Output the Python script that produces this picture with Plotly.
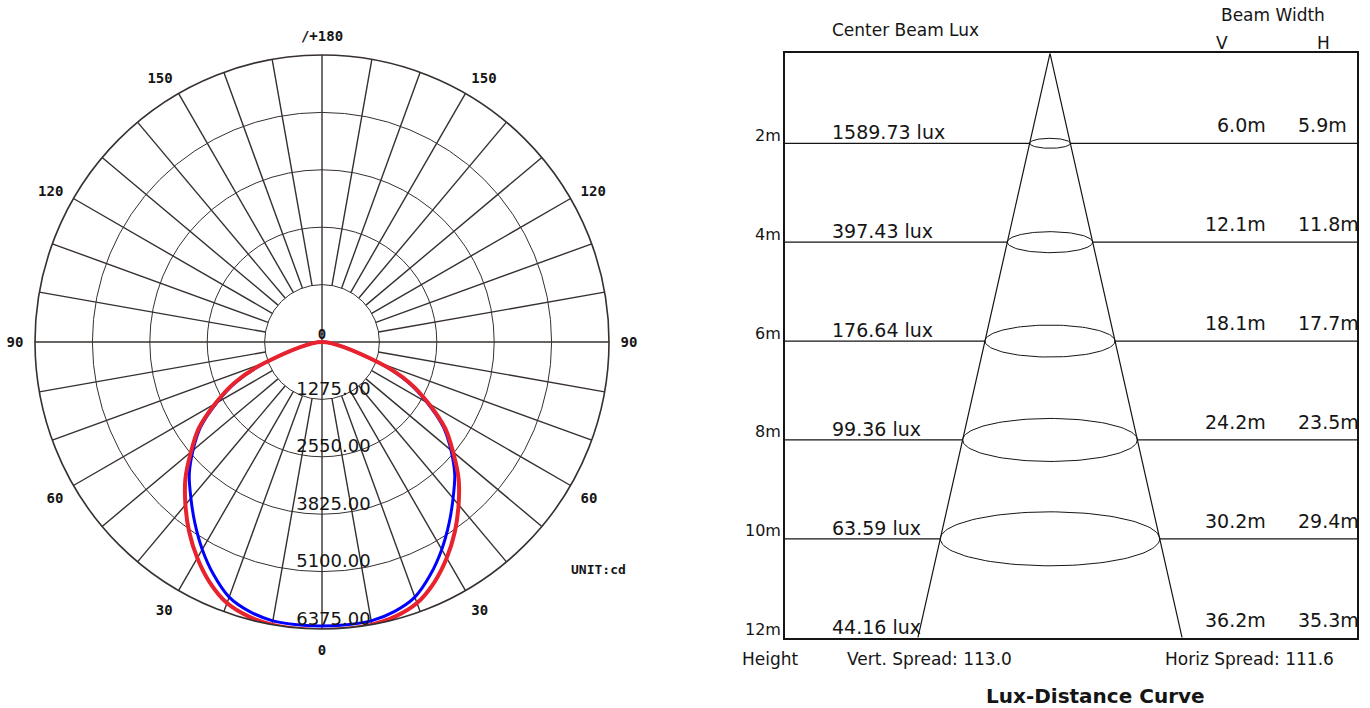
import numpy as np
import plotly.graph_objects as go

W, H = 1370, 708

# ---------------- Polar (luminous intensity) data ----------------
gamma_deg = list(range(-75, 80, 5))
blue_cd = [0, 1330, 2100, 2700, 3290, 3740, 4170, 4530, 4920, 5320, 5700, 6030, 6200, 6290, 6305,
           6310,
           6305, 6290, 6200, 6030, 5700, 5320, 4920, 4530, 4170, 3740, 3290, 2700, 2100, 1330, 0]
red_cd = [0, 1350, 2150, 2740, 3340, 3800, 4290, 4720, 5145, 5540, 5895, 6170, 6310, 6375, 6395,
          6400,
          6395, 6375, 6310, 6170, 5895, 5540, 5145, 4720, 4290, 3800, 3340, 2740, 2150, 1350, 0]
ring_values = [1275, 2550, 3825, 5100, 6375]
ring_labels = ["1275.00", "2550.00", "3825.00", "5100.00", "6375.00"]
angle_tickvals = [0, 30, 60, 90, 120, 150, 180, 210, 240, 270, 300, 330]
angle_ticktext = ["0", "30", "60", "90", "120", "150", "/+180", "150", "120", "90", "60", "30"]
unit_text = "UNIT:cd"

# ---------------- Lux-distance data ----------------
heights = [2, 4, 6, 8, 10, 12]
height_labels = ["2m", "4m", "6m", "8m", "10m", "12m"]
center_lux = ["1589.73 lux", "397.43 lux", "176.64 lux", "99.36 lux", "63.59 lux", "44.16 lux"]
beam_v = ["6.0m", "12.1m", "18.1m", "24.2m", "30.2m", "36.2m"]
beam_h = ["5.9m", "11.8m", "17.7m", "23.5m", "29.4m", "35.3m"]
vert_spread = "113.0"
horiz_spread = "111.6"

# ---------------- styles / layout constants ----------------
GRID = "#36302e"
INK = "#151515"
RMAX = ring_values[-1]
NBSP_PAD = "\u00a0" * 4  # nudges ring labels right of the axis, as in the original

fig = go.Figure()

# spokes (start at first ring)
sp_r, sp_t = [], []
for a in range(10, 360, 10):
    if a in (90, 180, 270):
        continue
    sp_r += [ring_values[0], RMAX, None]
    sp_t += [a, a, None]
fig.add_trace(go.Scatterpolar(r=sp_r, theta=sp_t, mode="lines",
                              line=dict(color=GRID, width=1.4), hoverinfo="skip"))
# full diameters
fig.add_trace(go.Scatterpolar(r=[RMAX, 0, RMAX, None, RMAX, 0, RMAX],
                              theta=[0, 0, 180, None, 90, 90, 270], mode="lines",
                              line=dict(color=GRID, width=1.4), hoverinfo="skip"))
# curves
fig.add_trace(go.Scatterpolar(r=blue_cd, theta=gamma_deg, mode="lines",
                              line=dict(color="#0000FF", width=3, shape="spline", smoothing=0.8)))
fig.add_trace(go.Scatterpolar(r=red_cd, theta=gamma_deg, mode="lines",
                              line=dict(color="#E8232D", width=4, shape="spline", smoothing=0.8)))
# ring labels
fig.add_trace(go.Scatterpolar(r=ring_values, theta=[0] * len(ring_values), mode="text",
                              text=[NBSP_PAD + s for s in ring_labels], textposition="top center",
                              textfont=dict(family="DejaVu Sans", size=18, color=INK),
                              hoverinfo="skip"))
fig.add_trace(go.Scatterpolar(r=[0], theta=[0], mode="text", text=["0"],
                              textposition="top center",
                              textfont=dict(family="DejaVu Sans Mono", size=14, color=INK,
                                            weight="bold"),
                              hoverinfo="skip"))

# ---------------- Lux-distance schematic ----------------
PX_PER_M = 49.44
APEX_PX = 1050
LEFT_PX, RIGHT_PX, TOP_PX, BOT_PX = 785, 1357, 53.3, 637.7
x_min = (LEFT_PX - APEX_PX) / PX_PER_M
x_max = (RIGHT_PX - APEX_PX) / PX_PER_M
h0 = 12 - (BOT_PX - TOP_PX) / PX_PER_M
SLOPE = 0.226
ASPECT = 0.246

def hw(h):
    return SLOPE * (h - h0)

# horizontal lines broken by ellipses
lx, ly = [], []
for h in heights[:-1]:
    lx += [x_min, -hw(h), None, hw(h), x_max, None]
    ly += [h, h, None, h, h, None]
fig.add_trace(go.Scatter(x=lx, y=ly, mode="lines", line=dict(color=INK, width=1.2),
                         hoverinfo="skip"))
# cone edges
fig.add_trace(go.Scatter(x=[-hw(heights[-1]), 0, hw(heights[-1])],
                         y=[heights[-1], h0, heights[-1]], mode="lines",
                         line=dict(color=INK, width=1.2), hoverinfo="skip"))
# ellipses
t = np.linspace(0, 2 * np.pi, 121)
ex, ey = [], []
for h in heights[:-1]:
    a = hw(h)
    b = ASPECT * a
    ex += list(a * np.cos(t)) + [None]
    ey += list(h + b * np.sin(t)) + [None]
fig.add_trace(go.Scatter(x=ex, y=ey, mode="lines", line=dict(color=INK, width=1),
                         hoverinfo="skip"))

ann = []
F = "DejaVu Sans"
for h, hl, lux, v, hh in zip(heights, height_labels, center_lux, beam_v, beam_h):
    ann.append(dict(x=783 / W, xref="paper", y=h, yref="y", text=hl, showarrow=False,
                    xanchor="right", yanchor="middle", yshift=8,
                    font=dict(family=F, size=16, color=INK)))
    ann.append(dict(x=830 / W, xref="paper", y=h, yref="y", text=lux, showarrow=False,
                    xanchor="left", yanchor="middle", yshift=11,
                    font=dict(family=F, size=19, color=INK)))
    ann.append(dict(x=1268 / W, xref="paper", y=h, yref="y", text=v, showarrow=False,
                    xanchor="right", yanchor="middle", yshift=18,
                    font=dict(family=F, size=19, color=INK)))
    ann.append(dict(x=1296 / W, xref="paper", y=h, yref="y", text=hh, showarrow=False,
                    xanchor="left", yanchor="middle", yshift=18,
                    font=dict(family=F, size=19, color=INK)))

def pa(x, y, text, size, anchor="center", bold=False, family=F):
    return dict(x=x / W, y=1 - y / H, xref="paper", yref="paper", text=text,
                showarrow=False, xanchor=anchor, yanchor="middle",
                font=dict(family=family, size=size, color=INK,
                          weight="bold" if bold else "normal"))

ann += [
    pa(905, 30, "Center Beam Lux", 17),
    pa(1273, 15, "Beam Width", 17),
    pa(1222, 43, "V", 17),
    pa(1323, 43, "H", 17),
    pa(771, 659, "Height", 17),
    pa(929, 659, "Vert. Spread: " + vert_spread, 17),
    pa(1249, 659, "Horiz Spread: " + horiz_spread, 17),
    pa(1095, 696, "Lux-Distance Curve", 20, bold=True),
    pa(598, 569, unit_text, 13, bold=True, family="DejaVu Sans Mono"),
]

fig.update_layout(
    width=W, height=H, autosize=False,
    margin=dict(l=0, r=0, t=0, b=0),
    paper_bgcolor="white", plot_bgcolor="white",
    showlegend=False,
    polar=dict(
        domain=dict(x=[35 / W, 609 / W], y=[1 - 629 / H, 1 - 55 / H]),
        bgcolor="white",
        radialaxis=dict(range=[0, RMAX], tickmode="array", tickvals=ring_values[:-1],
                        showgrid=True, gridcolor=GRID, gridwidth=1.4,
                        showline=False, showticklabels=False, ticks=""),
        angularaxis=dict(rotation=-90, direction="counterclockwise",
                         tickmode="array", tickvals=angle_tickvals, ticktext=angle_ticktext,
                         showgrid=False, showline=True, linecolor=GRID, linewidth=1.6,
                         ticks="outside", ticklen=8, tickcolor="rgba(0,0,0,0)",
                         tickfont=dict(family="DejaVu Sans Mono", size=14, color=INK,
                                       weight="bold")),
    ),
    xaxis=dict(domain=[LEFT_PX / W, RIGHT_PX / W], range=[x_min, x_max],
               showgrid=False, zeroline=False, showticklabels=False, ticks="",
               showline=True, mirror=True, linecolor=INK, linewidth=1.5, fixedrange=True),
    yaxis=dict(domain=[1 - BOT_PX / H, 1 - TOP_PX / H], range=[12, h0],
               showgrid=False, zeroline=False, showticklabels=False, ticks="",
               showline=True, mirror=True, linecolor=INK, linewidth=1.5, fixedrange=True),
    annotations=ann,
)

fig.write_html("out.html", config={"displayModeBar": False},
               post_script="document.body.style.margin='0';")
